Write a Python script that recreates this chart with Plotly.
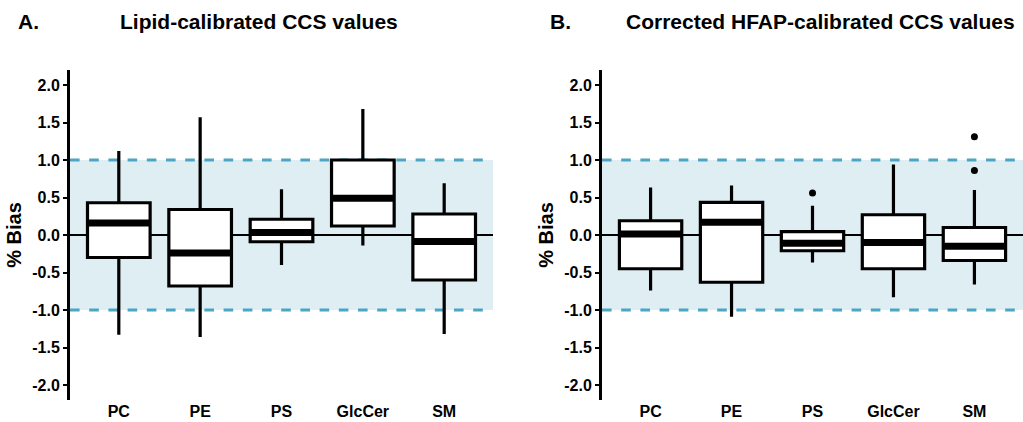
import plotly.graph_objects as go

categories = ["PC", "PE", "PS", "GlcCer", "SM"]

# Panel A: Lipid-calibrated CCS values
a_upper = [1.12, 1.57, 0.61, 1.68, 0.69]
a_q3 = [0.43, 0.34, 0.21, 1.00, 0.28]
a_median = [0.16, -0.24, 0.035, 0.49, -0.085]
a_q1 = [-0.30, -0.68, -0.09, 0.12, -0.60]
a_lower = [-1.33, -1.36, -0.40, -0.14, -1.32]

# Panel B: Corrected HFAP-calibrated CCS values
b_upper = [0.635, 0.66, 0.39, 0.94, 0.60]
b_q3 = [0.19, 0.435, 0.044, 0.27, 0.10]
b_median = [0.013, 0.17, -0.11, -0.10, -0.15]
b_q1 = [-0.45, -0.63, -0.21, -0.45, -0.34]
b_lower = [-0.74, -1.09, -0.365, -0.83, -0.66]
b_outlier_cat = ["PS", "SM", "SM"]
b_outlier_val = [0.56, 1.31, 0.86]

y_ticks = [2.0, 1.5, 1.0, 0.5, 0.0, -0.5, -1.0, -1.5, -2.0]

BOX_W = 0.77
FONT = "Liberation Sans, Arial, sans-serif"

fig = go.Figure()


def add_panel(xa, ya, upper, q3, med, q1, lower):
    xs = list(range(len(categories)))
    fig.add_trace(go.Box(
        x=xs, q1=q1, median=med, q3=q3, lowerfence=lower, upperfence=upper,
        width=BOX_W, whiskerwidth=0, fillcolor="white",
        line=dict(color="black", width=3.2), boxpoints=False,
        xaxis=xa, yaxis=ya, showlegend=False, hoverinfo="skip"))
    mx, my = [], []
    for i, m in zip(xs, med):
        mx += [i - BOX_W / 2, i + BOX_W / 2, None]
        my += [m, m, None]
    fig.add_trace(go.Scatter(x=mx, y=my, mode="lines",
                             line=dict(color="black", width=7),
                             xaxis=xa, yaxis=ya, showlegend=False,
                             hoverinfo="skip"))


add_panel("x", "y", a_upper, a_q3, a_median, a_q1, a_lower)
add_panel("x2", "y2", b_upper, b_q3, b_median, b_q1, b_lower)

fig.add_trace(go.Scatter(
    x=[categories.index(c) for c in b_outlier_cat], y=b_outlier_val,
    mode="markers", marker=dict(color="black", size=7),
    xaxis="x2", yaxis="y2", showlegend=False, hoverinfo="skip"))

shapes = []
for xr, yr in [("x domain", "y"), ("x2 domain", "y2")]:
    shapes.append(dict(type="rect", xref=xr, yref=yr, x0=0, x1=1, y0=-1, y1=1,
                       fillcolor="#DEEEF3", line=dict(width=0), layer="below"))
    for yv in (1, -1):
        shapes.append(dict(type="line", xref=xr, yref=yr, x0=0, x1=0.995,
                           y0=yv, y1=yv, layer="below",
                           line=dict(color="#4BA5C4", width=3.2, dash="dash")))
    shapes.append(dict(type="line", xref=xr, yref=yr, x0=0, x1=1, y0=0, y1=0,
                       layer="below", line=dict(color="black", width=2)))

axis_x = dict(range=[-0.6, 4.6], tickvals=list(range(5)), ticktext=categories,
              showline=False, showgrid=False, zeroline=False, ticks="",
              tickfont=dict(family=FONT, size=16, color="black", weight="bold"),
              fixedrange=True)
axis_y = dict(range=[-2.2, 2.2], tickvals=y_ticks,
              ticktext=[f"{v:.1f}" for v in y_ticks],
              showline=True, linecolor="black", linewidth=3,
              ticks="outside", ticklen=4, tickwidth=2, tickcolor="black",
              showgrid=False, zeroline=False,
              tickfont=dict(family=FONT, size=16, color="black", weight="bold"),
              title=dict(text="% Bias", standoff=6,
                         font=dict(family=FONT, size=20, color="black",
                                   weight="bold")),
              fixedrange=True)

W, H = 1023, 422
fig.update_layout(
    width=W, height=H, margin=dict(l=0, r=0, t=70, b=22),
    plot_bgcolor="white", paper_bgcolor="white",
    xaxis=dict(domain=[70 / W, 493 / W], anchor="y", **axis_x),
    xaxis2=dict(domain=[602 / W, 1.0], anchor="y2", **axis_x),
    yaxis=dict(anchor="x", **axis_y),
    yaxis2=dict(anchor="x2", **axis_y),
    shapes=shapes,
)

def ann(text, px, py):
    return dict(text=text, x=px / W, y=(400 - py) / 330, xref="paper",
                yref="paper", xanchor="left", yanchor="middle",
                showarrow=False,
                font=dict(family=FONT, size=21, color="black", weight="bold"))

fig.update_layout(annotations=[
    ann("A.", 16, 22),
    ann("Lipid-calibrated CCS values", 118, 22),
    ann("B.", 548, 22),
    ann("Corrected HFAP-calibrated CCS values", 624, 22),
])

fig.write_html("out.html")
